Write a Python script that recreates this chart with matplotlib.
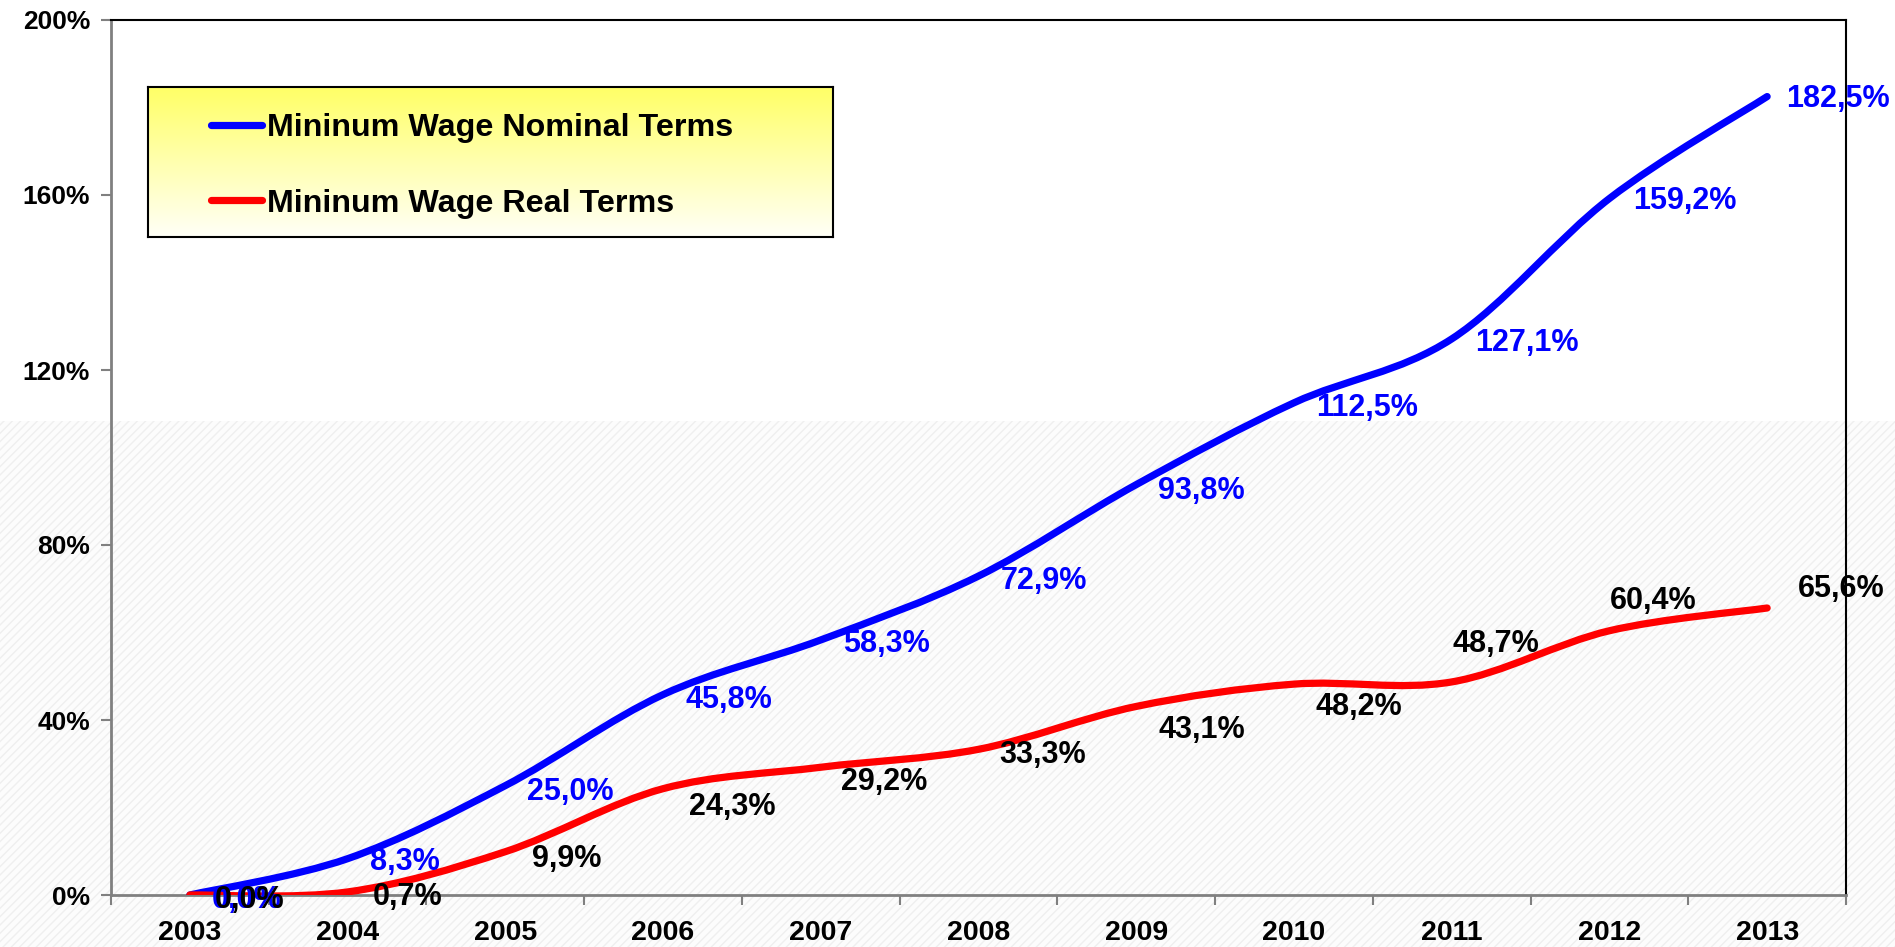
import numpy as np
import matplotlib
matplotlib.use('Agg')
import matplotlib.pyplot as plt
from matplotlib.path import Path
from matplotlib.patches import PathPatch, Rectangle
from matplotlib.lines import Line2D

# ---------------- data ----------------
years = ['2003', '2004', '2005', '2006', '2007', '2008', '2009', '2010', '2011', '2012', '2013']
nominal = [0.0, 8.3, 25.0, 45.8, 58.3, 72.9, 93.8, 112.5, 127.1, 159.2, 182.5]
real = [0.0, 0.7, 9.9, 24.3, 29.2, 33.3, 43.1, 48.2, 48.7, 60.4, 65.6]
series_names = ['Mininum Wage Nominal Terms', 'Mininum Wage Real Terms']
y_ticks = [0, 40, 80, 120, 160, 200]

# label placement (pixels: left-edge dx, centre dy)
nom_dx = [22, 22, 22, 22, 22, 22, 22, 22, 23, 24, 19]
nom_dy = [-5, -3, -6, -5, -4, -5, -6, -5, -4, -3, -2]
real_dx = [25, 25, 27, 26, 20, 21, 22, 22, 1, 0, 31]
real_dy = [-5, -5, -7, -18, -15, -6, -24, -23, 38, 30, 19]

BLUE = '#0000FF'
RED = '#FF0000'
W, H = 1895, 947
plt.rcParams['hatch.linewidth'] = 1.0
font = ['Liberation Sans', 'DejaVu Sans']

fig = plt.figure(figsize=(W / 100, H / 100), dpi=100)
fig.patch.set_facecolor('white')

# faint hatched band in lower part of the slide
band = Rectangle((0, 0), 1, (H - 421) / H, transform=fig.transFigure,
                 facecolor='#fcfcfc', edgecolor='#efefef', hatch='////',
                 linewidth=0, zorder=-5)
fig.patches.append(band)

ax = fig.add_axes([111 / W, (H - 895) / H, (1846 - 111) / W, (895 - 20) / H])
ax.set_zorder(2)
ax.patch.set_alpha(0)

x = np.arange(len(years))


def smooth_path(xs, ys):
    xs = list(map(float, xs)); ys = list(map(float, ys))
    n = len(xs)
    verts = [(xs[0], ys[0])]
    codes = [Path.MOVETO]
    for i in range(n - 1):
        i0 = max(i - 1, 0); i3 = min(i + 2, n - 1)
        c1 = (xs[i] + (xs[i + 1] - xs[i0]) / 6, ys[i] + (ys[i + 1] - ys[i0]) / 6)
        c2 = (xs[i + 1] - (xs[i3] - xs[i]) / 6, ys[i + 1] - (ys[i3] - ys[i]) / 6)
        verts += [c1, c2, (xs[i + 1], ys[i + 1])]
        codes += [Path.CURVE4] * 3
    return Path(verts, codes)


for vals, col in [(nominal, BLUE), (real, RED)]:
    pp = PathPatch(smooth_path(x, vals), fill=False, edgecolor=col, linewidth=5.2,
                   capstyle='round', joinstyle='round', zorder=3)
    ax.add_patch(pp)


def fmt(v):
    return f"{v:.1f}%".replace('.', ',')


for vals, dxs, dys, col in [(nominal, nom_dx, nom_dy, BLUE), (real, real_dx, real_dy, 'black')]:
    for xi, v, dx, dy in zip(x, vals, dxs, dys):
        ax.annotate(fmt(v), (xi, v), xytext=(dx, dy), textcoords='offset pixels',
                    ha='left', va='center', fontsize=22, fontweight='bold',
                    family=font, color=col, zorder=5, annotation_clip=False)

ax.set_xlim(-0.5, len(years) - 0.5)
ax.set_ylim(0, 200)
ax.set_yticks(y_ticks)
ax.set_yticklabels([f"{t}%" for t in y_ticks], fontsize=19, fontweight='bold', family=font)
ax.set_xticks(x)
ax.set_xticklabels(years, fontsize=20.5, fontweight='bold', family=font)
ax.set_xticks(np.arange(-0.5, len(years)), minor=True)
ax.tick_params(axis='x', which='major', length=0, pad=18)
ax.tick_params(axis='x', which='minor', length=7, width=1.5, color='#808080', direction='out')
ax.tick_params(axis='y', which='major', length=7, width=1.5, color='#808080', direction='out', pad=8)

for s in ['left', 'bottom']:
    ax.spines[s].set_color('#808080')
    ax.spines[s].set_linewidth(2)
for s in ['top', 'right']:
    ax.spines[s].set_color('black')
    ax.spines[s].set_linewidth(1.5)

# legend box with yellow gradient
lax = fig.add_axes([148 / W, (H - 237) / H, (833 - 148) / W, (237 - 87) / H])
lax.set_zorder(1)
grad = np.linspace(0, 1, 256).reshape(-1, 1)
top = np.array([1.0, 1.0, 0.40]); bot = np.array([1.0, 1.0, 0.97])
img = top[None, None, :] * (1 - grad[:, :, None]) + bot[None, None, :] * grad[:, :, None]
lax.imshow(img, aspect='auto', extent=[0, 1, 0, 1], origin='upper')
lax.set_xticks([]); lax.set_yticks([])
for s in lax.spines.values():
    s.set_color('black'); s.set_linewidth(1.5)

handles = [Line2D([], [], color=BLUE, lw=5.2, solid_capstyle='round'),
           Line2D([], [], color=RED, lw=5.2, solid_capstyle='round')]
leg = ax.legend(handles, series_names, loc='center', bbox_to_anchor=(472 / W, 1 - 166 / H),
                bbox_transform=fig.transFigure, frameon=False, handlelength=1.6,
                handletextpad=0.15, labelspacing=1.4, borderpad=0,
                prop={'family': font, 'weight': 'bold', 'size': 23.2})

fig.savefig('out.png', dpi=100)
